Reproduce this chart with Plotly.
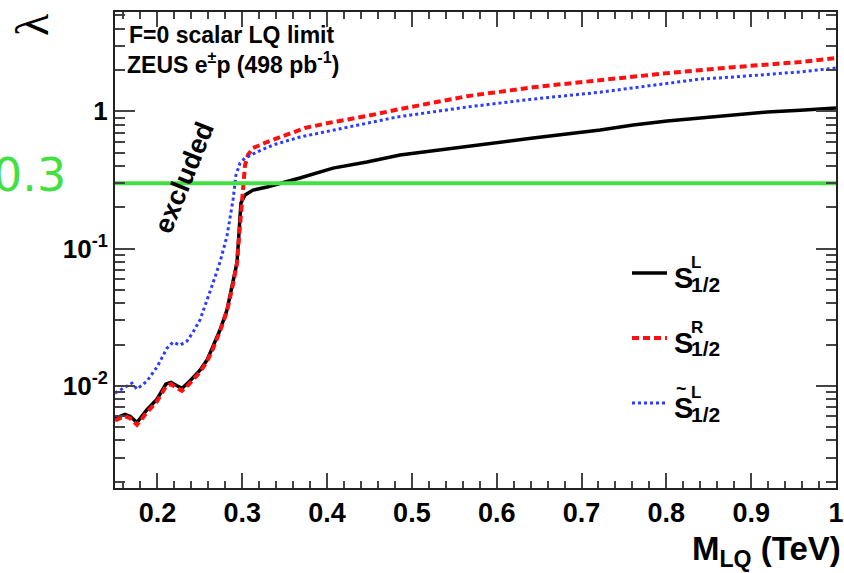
import math
import plotly.graph_objects as go

# ---------------- data ----------------
mass_black = [0.150, 0.1618, 0.1677, 0.1759, 0.1877, 0.1995, 0.2101, 0.216, 0.2231, 0.229,
              0.2361, 0.2431, 0.2502, 0.2585, 0.2655, 0.2738, 0.282, 0.2891, 0.2938, 0.2962,
              0.2985, 0.3033, 0.3127, 0.3292, 0.348, 0.368, 0.407, 0.447, 0.486, 0.565,
              0.643, 0.722, 0.761, 0.801, 0.840, 0.879, 0.919, 0.958, 1.0]
lam_S_L = [0.0058, 0.0062, 0.0060, 0.0054, 0.0067, 0.0080, 0.0103, 0.0106, 0.0100, 0.0096,
           0.0105, 0.0116, 0.0130, 0.0154, 0.0191, 0.0255, 0.0356, 0.056, 0.079, 0.130,
           0.215, 0.246, 0.267, 0.281, 0.301, 0.327, 0.386, 0.428, 0.481, 0.559,
           0.640, 0.731, 0.795, 0.85, 0.89, 0.94, 0.99, 1.02, 1.057]

mass_red = [0.150, 0.1618, 0.1677, 0.1759, 0.1877, 0.1995, 0.2101, 0.216, 0.2231, 0.229,
            0.2361, 0.2431, 0.2502, 0.2585, 0.2655, 0.2738, 0.282, 0.2891, 0.2938, 0.2962,
            0.2985, 0.3009, 0.3033, 0.3068, 0.3127, 0.3292, 0.3504, 0.374, 0.407, 0.447,
            0.486, 0.565, 0.643, 0.722, 0.801, 0.879, 0.958, 1.0]
lam_S_R = [0.0056, 0.0060, 0.0058, 0.0052, 0.0064, 0.0077, 0.0099, 0.0103, 0.0096, 0.0092,
           0.0101, 0.0112, 0.0126, 0.0150, 0.0186, 0.0250, 0.0350, 0.055, 0.078, 0.120,
           0.175, 0.290, 0.406, 0.481, 0.541, 0.598, 0.672, 0.757, 0.836, 0.925,
           1.04, 1.29, 1.50, 1.69, 1.90, 2.10, 2.29, 2.45]

mass_blue = [0.150, 0.1618, 0.170, 0.1759, 0.1877, 0.1995, 0.2113, 0.2184, 0.2266, 0.2349,
             0.242, 0.2502, 0.2585, 0.2655, 0.2738, 0.282, 0.2891, 0.2926, 0.2974, 0.3033,
             0.3174, 0.3363, 0.368, 0.407, 0.447, 0.4825, 0.565, 0.643, 0.722, 0.801,
             0.840, 0.879, 0.919, 0.958, 1.0]
lam_St_L = [0.00885, 0.0098, 0.01047, 0.00946, 0.01083, 0.0137, 0.0188, 0.0208, 0.0198, 0.0212,
            0.0246, 0.0302, 0.0415, 0.0561, 0.0798, 0.1234, 0.226, 0.344, 0.420, 0.457,
            0.506, 0.569, 0.650, 0.731, 0.822, 0.910, 1.076, 1.23, 1.38, 1.61,
            1.72, 1.78, 1.87, 1.94, 2.07]

limit_mass = [0.15, 1.0]
limit_lambda = [0.3, 0.3]

x_tickvals = [0.2, 0.3, 0.4, 0.5, 0.6, 0.7, 0.8, 0.9, 1.0]
x_ticktext = ["0.2", "0.3", "0.4", "0.5", "0.6", "0.7", "0.8", "0.9", "1"]
y_tickvals = [0.01, 0.1, 1]
y_ticktext = ["10<sup>-2</sup>", "10<sup>-1</sup>", "1"]

# ---------------- figure ----------------
GREEN = "#42e042"
RED = "#ff1010"
BLUE = "#2b3cff"
FONT = "Liberation Sans, Arial, Helvetica, sans-serif"

fig = go.Figure()
fig.add_trace(go.Scatter(x=mass_black, y=lam_S_L, mode="lines",
                         line=dict(color="black", width=3.5)))
fig.add_trace(go.Scatter(x=mass_red, y=lam_S_R, mode="lines",
                         line=dict(color=RED, width=4, dash="7px,4px")))
fig.add_trace(go.Scatter(x=mass_blue, y=lam_St_L, mode="lines",
                         line=dict(color=BLUE, width=3, dash="3px,3px")))
fig.add_trace(go.Scatter(x=limit_mass, y=limit_lambda, mode="lines",
                         line=dict(color=GREEN, width=4)))

# plot area in pixels: x 115..836, y 12..488
W, H = 844, 573
L, R, T, B = 115, 836, 12, 488


def px(x):
    return (x - L) / (R - L)


def py(y):
    return (B - y) / (B - T)


fig.update_layout(
    width=W, height=H,
    margin=dict(l=L, r=W - R, t=T, b=H - B, autoexpand=False),
    paper_bgcolor="white", plot_bgcolor="white",
    showlegend=False,
    font=dict(family=FONT, color="black"),
)
fig.update_xaxes(
    range=[0.15, 1.0], showgrid=False, zeroline=False, automargin=False,
    showline=True, linecolor="#222", linewidth=2, mirror="ticks",
    ticks="inside", ticklen=15, tickwidth=1.5, tickcolor="#444",
    tickvals=x_tickvals, ticktext=x_ticktext,
    tickfont=dict(family=FONT, size=27, weight="bold"),
    minor=dict(ticks="inside", ticklen=7, tickwidth=1.5, tickcolor="#444",
               dtick=0.02, tick0=0.0, showgrid=False),
)
fig.update_yaxes(
    type="log", range=[math.log10(0.0018), math.log10(5.3)],
    showgrid=False, zeroline=False, automargin=False,
    showline=True, linecolor="#222", linewidth=2, mirror="ticks",
    ticks="inside", ticklen=20, tickwidth=1.5, tickcolor="#444",
    tickvals=y_tickvals, ticktext=y_ticktext,
    tickfont=dict(family=FONT, size=26, weight="bold"),
    minor=dict(ticks="inside", ticklen=10, tickwidth=1.5, tickcolor="#444",
               dtick="D1", showgrid=False),
)


def add(text, x, y, size, xanchor="left", yanchor="middle", angle=0, family=FONT,
        weight="bold", color="black"):
    fig.add_annotation(text=text, x=px(x), y=py(y), xref="paper", yref="paper",
                       showarrow=False, xanchor=xanchor, yanchor=yanchor,
                       textangle=angle, borderpad=0,
                       font=dict(family=family, size=size, weight=weight, color=color))


# header text
add("F=0 scalar LQ limit", 128, 35, 23)
add("ZEUS e<sup>±</sup>p (498 pb<sup>-1</sup>)", 126, 63, 23)

# excluded
add("excluded", 184, 178, 27, xanchor="center", angle=-68)

# green 0.3 label
add("0.3", 29, 175, 46, xanchor="center", family="DejaVu Sans", weight="normal",
    color=GREEN)

# y title (lambda)
add("λ", 32, 25, 46, xanchor="center", angle=-90, family="Liberation Serif",
    weight="normal")

# x title
add("M<sub>LQ</sub> (TeV)", 842, 551, 33, xanchor="right")

# legend samples
legend_rows = [
    dict(y=273, color="black", width=3.5, dash="solid", sup="L", tilde=False),
    dict(y=338, color=RED, width=4, dash="7px,4px", sup="R", tilde=False),
    dict(y=403, color=BLUE, width=3, dash="3px,3px", sup="L", tilde=True),
]
for row in legend_rows:
    fig.add_shape(type="line", xref="paper", yref="paper",
                  x0=px(632), x1=px(667), y0=py(row["y"]), y1=py(row["y"]),
                  line=dict(color=row["color"], width=row["width"], dash=row["dash"]))
    sy = row["y"] + 5
    add("S", 673, sy, 29)
    add(row["sup"], 690, sy - 16, 17)
    add("1/2", 690, sy + 6, 21)
    if row["tilde"]:
        add("~", 681, sy - 19, 18, xanchor="center")

fig.write_html("out.html")
